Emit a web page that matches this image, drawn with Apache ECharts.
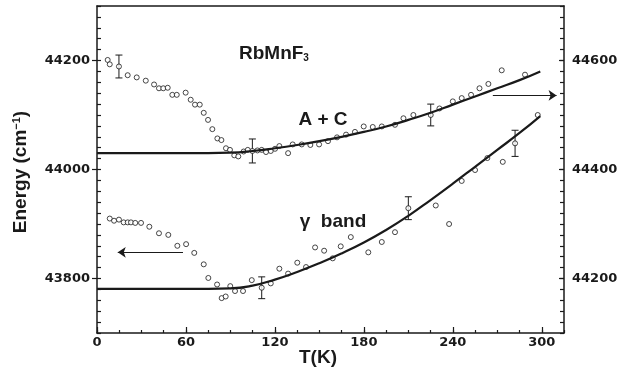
<!DOCTYPE html>
<html>
<head>
<meta charset="utf-8">
<script src="https://cdn.jsdelivr.net/npm/echarts@6.0.0/dist/echarts.min.js"></script>
<style>
  html, body { margin: 0; padding: 0; background: #fff; }
  #chart { width: 621px; height: 368px; }
</style>
</head>
<body>
<div id="chart"></div>
<script>
// tick labels
const tTicks = [0, 60, 120, 180, 240, 300];
const leftTicks = [43800, 44000, 44200];
const rightTicks = [44200, 44400, 44600];

// A + C measured points (right hand scale), [T, energy]
const acPoints = [
  [7.2, 44601], [8.6, 44593], [14.8, 44589], [20.7, 44573], [26.8, 44569], [32.9, 44563],
  [38.5, 44556], [41.8, 44549], [44.7, 44549], [47.7, 44550], [50.8, 44537], [53.8, 44537],
  [59.8, 44541], [63.2, 44528], [66.1, 44519], [69.3, 44519], [72, 44504], [74.9, 44491],
  [77.8, 44474], [81.2, 44457], [83.9, 44454], [87, 44439], [89.7, 44436], [92.6, 44426],
  [95.3, 44424], [98.9, 44433], [101.7, 44436], [104.8, 44434], [108.2, 44435], [111.1, 44436],
  [114, 44432], [117.2, 44434], [120.1, 44438], [123, 44443], [128.9, 44430], [132, 44446],
  [138.1, 44446], [143.9, 44445], [149.8, 44446], [155.8, 44452], [161.9, 44459], [168, 44464],
  [174, 44469], [179.9, 44479], [186, 44478], [192.1, 44479], [201, 44482], [206.7, 44494],
  [213.4, 44500], [225.1, 44500], [231, 44512], [240, 44525], [246, 44531], [252.3, 44537],
  [258, 44549], [264, 44557], [273, 44582], [288.7, 44574]
];
// [T, energy, half error]
const acErr = [[14.8, 44589, 21], [104.8, 44434, 22], [225.1, 44500, 20]];

// fitted curves
const curveT = [0, 30, 60, 90, 105, 120, 135, 150, 165, 180, 195, 210, 225, 240, 255, 270, 285, 299];
const acFit = [44430, 44430, 44430, 44431, 44434, 44439, 44445, 44452, 44460, 44469, 44479, 44491,
  44504, 44519, 44534, 44549, 44564, 44580];
const gFit = [43781, 43781, 43781, 43782, 43787, 43798, 43812, 43828, 43846, 43866, 43889, 43915,
  43944, 43974, 44005, 44036, 44067, 44098];

// gamma band measured points (left hand scale)
const gPoints = [
  [8.6, 43910], [11.5, 43906], [14.8, 43908], [18, 43903], [20.7, 43903], [22.9, 43903],
  [25.8, 43902], [29.7, 43902], [35.3, 43895], [41.8, 43883], [48.1, 43880], [54.2, 43860],
  [60.1, 43863], [65.6, 43847], [72, 43826], [75.1, 43801], [81, 43789], [84.1, 43764],
  [86.8, 43767], [89.9, 43786], [93.1, 43777], [98.5, 43777], [104.4, 43797], [111.1, 43783],
  [117.2, 43791], [123, 43818], [128.9, 43809], [135.1, 43829], [141, 43821], [147.1, 43857],
  [153.2, 43851], [159, 43837], [164.4, 43859], [171.2, 43876], [183, 43848], [192.1, 43867],
  [201, 43885], [210, 43929], [228.5, 43934], [237.5, 43900], [246, 43979], [255, 43999],
  [263.3, 44021], [273.7, 44014], [282, 44048], [297.3, 44100]
];
const gErr = [[111.1, 43783, 20], [210, 43929, 21], [282, 44048, 24]];

// arrows telling which scale belongs to which band
const arrowRight = [[267, 44536], [310, 44536]];
const arrowLeft = [[58, 43848], [14, 43848]];

const ink = '#1a1a1a';
const tickFont = {
    fontFamily: 'DejaVu Sans', fontWeight: 'bold', fontSize: 13, color: ink,
    formatter: v => String(v)
};
const textFont = 'bold 19px "Liberation Sans"';

function errBar(params, api) {
    const x = api.value(0), y = api.value(1), e = api.value(2);
    const hi = api.coord([x, y + e]);
    const lo = api.coord([x, y - e]);
    const w = 3.5;
    const st = { stroke: ink, lineWidth: 1 };
    return {
        type: 'group',
        children: [
            { type: 'line', shape: { x1: hi[0], y1: hi[1], x2: lo[0], y2: lo[1] }, style: st },
            { type: 'line', shape: { x1: hi[0] - w, y1: hi[1], x2: hi[0] + w, y2: hi[1] }, style: st },
            { type: 'line', shape: { x1: lo[0] - w, y1: lo[1], x2: lo[0] + w, y2: lo[1] }, style: st }
        ]
    };
}

const axisLine = { show: true, onZero: false, lineStyle: { color: ink, width: 1.5 } };
const tickLine = { color: ink, width: 1.2 };
const noSplit = { show: false };

const chart = echarts.init(document.getElementById('chart'), null, { renderer: 'canvas' });
chart.setOption({
    animation: false,
    backgroundColor: '#fff',
    grid: { left: 97, right: 57, top: 6, bottom: 35, outerBoundsMode: 'none' },
    xAxis: [
        {
            type: 'value', min: 0, max: 315, position: 'bottom',
            axisLine: axisLine,
            axisTick: { show: true, inside: true, length: 6, customValues: tTicks, lineStyle: tickLine },
            axisLabel: Object.assign({ customValues: tTicks, margin: 3 }, tickFont),
            splitLine: noSplit
        },
        {
            type: 'value', min: 0, max: 315, interval: 15, position: 'bottom',
            axisLine: { show: false, onZero: false },
            axisTick: { show: true, inside: true, length: 3, lineStyle: tickLine },
            axisLabel: { show: false },
            splitLine: noSplit
        },
        {
            type: 'value', min: 0, max: 315, position: 'top',
            axisLine: axisLine,
            axisTick: { show: false },
            axisLabel: { show: false },
            splitLine: noSplit
        }
    ],
    yAxis: [
        {
            type: 'value', min: 43700, max: 44300, position: 'left',
            axisLine: axisLine,
            axisTick: { show: true, inside: false, length: 5, customValues: leftTicks, lineStyle: tickLine },
            axisLabel: Object.assign({ customValues: leftTicks, margin: 7 }, tickFont),
            splitLine: noSplit
        },
        {
            type: 'value', min: 44100, max: 44700, position: 'right',
            axisLine: axisLine,
            axisTick: { show: true, inside: true, length: 5, customValues: rightTicks, lineStyle: tickLine },
            axisLabel: Object.assign({ customValues: rightTicks, margin: 8 }, tickFont),
            splitLine: noSplit
        },
        {
            type: 'value', min: 43700, max: 44300, interval: 20, position: 'left',
            axisLine: { show: false, onZero: false },
            axisTick: { show: true, inside: true, length: 4, lineStyle: tickLine },
            axisLabel: { show: false },
            splitLine: noSplit
        },
        {
            type: 'value', min: 44100, max: 44700, interval: 20, position: 'right',
            axisLine: { show: false, onZero: false },
            axisTick: { show: true, inside: true, length: 4, lineStyle: tickLine },
            axisLabel: { show: false },
            splitLine: noSplit
        }
    ],
    series: [
        {
            name: 'A + C fit', type: 'line', xAxisIndex: 0, yAxisIndex: 1,
            data: curveT.map((t, i) => [t, acFit[i]]),
            symbol: 'none', smooth: 0.5,
            lineStyle: { color: ink, width: 2.2 }
        },
        {
            name: 'γ band fit', type: 'line', xAxisIndex: 0, yAxisIndex: 0,
            data: curveT.map((t, i) => [t, gFit[i]]),
            symbol: 'none', smooth: 0.5,
            lineStyle: { color: ink, width: 2.2 }
        },
        {
            name: 'A + C', type: 'scatter', xAxisIndex: 0, yAxisIndex: 1,
            data: acPoints, symbol: 'circle', symbolSize: 5,
            itemStyle: { color: '#fff', borderColor: ink, borderWidth: 1 },
            markLine: {
                silent: true, symbol: ['none', 'arrow'], symbolSize: 8,
                label: { show: false },
                lineStyle: { color: ink, width: 1, type: 'solid' },
                data: [[{ coord: arrowRight[0] }, { coord: arrowRight[1] }]]
            }
        },
        {
            name: 'γ band', type: 'scatter', xAxisIndex: 0, yAxisIndex: 0,
            data: gPoints, symbol: 'circle', symbolSize: 5,
            itemStyle: { color: '#fff', borderColor: ink, borderWidth: 1 },
            markLine: {
                silent: true, symbol: ['none', 'arrow'], symbolSize: 8,
                label: { show: false },
                lineStyle: { color: ink, width: 1, type: 'solid' },
                data: [[{ coord: arrowLeft[0] }, { coord: arrowLeft[1] }]]
            }
        },
        {
            type: 'custom', xAxisIndex: 0, yAxisIndex: 1,
            data: acErr, renderItem: errBar, silent: true
        },
        {
            type: 'custom', xAxisIndex: 0, yAxisIndex: 0,
            data: gErr, renderItem: errBar, silent: true
        }
    ],
    graphic: [
        {
            type: 'text', x: 239, y: 54,
            style: {
                text: 'RbMnF{s|3}', font: textFont, fill: ink, verticalAlign: 'middle',
                rich: { s: { fontSize: 10, fontWeight: 'bold', fontFamily: 'Liberation Sans', verticalAlign: 'bottom' } }
            }
        },
        {
            type: 'text', x: 323, y: 120,
            style: { text: 'A + C', font: textFont, fill: ink, align: 'center', verticalAlign: 'middle' }
        },
        {
            type: 'text', x: 333, y: 222,
            style: { text: 'γ  band', font: textFont, fill: ink, align: 'center', verticalAlign: 'middle' }
        },
        {
            type: 'text', x: 318, y: 358,
            style: { text: 'T(K)', font: textFont, fill: ink, align: 'center', verticalAlign: 'middle' }
        },
        {
            type: 'text', x: 21, y: 172, rotation: Math.PI / 2,
            style: {
                text: 'Energy (cm{s|−1})', font: textFont, fill: ink, align: 'center', verticalAlign: 'middle',
                rich: { s: { fontSize: 11, fontWeight: 'bold', fontFamily: 'Liberation Sans', verticalAlign: 'top' } }
            }
        }
    ]
});
</script>
</body>
</html>
